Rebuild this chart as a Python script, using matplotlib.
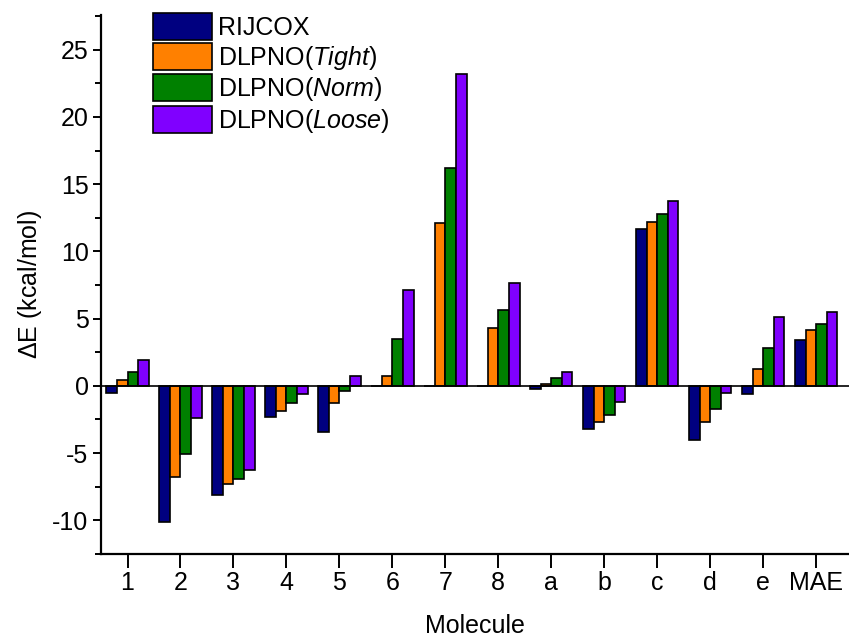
import numpy as np
import matplotlib
matplotlib.use('Agg')
import matplotlib.pyplot as plt
from matplotlib.ticker import MultipleLocator

plt.rcParams['font.family'] = ['Liberation Sans', 'DejaVu Sans']
plt.rcParams['mathtext.fontset'] = 'custom'
plt.rcParams['mathtext.rm'] = 'Liberation Sans'
plt.rcParams['mathtext.it'] = 'Liberation Sans:italic'
plt.rcParams['axes.unicode_minus'] = False

molecules = ['1', '2', '3', '4', '5', '6', '7', '8', 'a', 'b', 'c', 'd', 'e', 'MAE']
series_names = ['RIJCOX', 'DLPNO($\\mathit{Tight}$)', 'DLPNO($\\mathit{Norm}$)', 'DLPNO($\\mathit{Loose}$)']
rijcox = [-0.5, -10.1, -8.1, -2.3, -3.4, 0.0, 0.0, 0.0, -0.2, -3.2, 11.7, -4.0, -0.6, 3.4]
tight = [0.4, -6.8, -7.3, -1.9, -1.3, 0.75, 12.1, 4.3, 0.17, -2.7, 12.2, -2.7, 1.25, 4.15]
norm = [1.0, -5.05, -6.95, -1.3, -0.35, 3.45, 16.2, 5.65, 0.55, -2.15, 12.8, -1.7, 2.8, 4.6]
loose = [1.9, -2.4, -6.3, -0.6, 0.7, 7.1, 23.2, 7.65, 1.05, -1.2, 13.75, -0.5, 5.1, 5.5]
colors = ['#000080', '#FF8000', '#008000', '#8000FF']

fig = plt.figure(figsize=(8.49, 6.44), dpi=100)
ax = fig.add_axes([0.119, 0.14, 0.881, 0.837])

x = np.arange(1, len(molecules) + 1)
width = 0.2
all_series = [rijcox, tight, norm, loose]
handles = []
for i, vals in enumerate(all_series):
    b = ax.bar(x + (i - 1.5) * width, vals, width, color=colors[i],
               edgecolor='black', linewidth=1.2, label=series_names[i], zorder=2)
    handles.append(b)

ax.axhline(0, color='black', linewidth=1.2, zorder=3)

ax.set_xlim(0.5, 14.62)
ax.set_ylim(-12.5, 27.6)
ax.set_xticks(x)
ax.set_xticklabels(molecules)
ax.yaxis.set_major_locator(MultipleLocator(5))
ax.yaxis.set_minor_locator(MultipleLocator(2.5))

for s in ['top', 'right']:
    ax.spines[s].set_visible(False)
for s in ['left', 'bottom']:
    ax.spines[s].set_linewidth(1.6)

ax.tick_params(axis='y', which='major', direction='out', length=6, width=1.4, labelsize=18, pad=3)
ax.tick_params(axis='y', which='minor', direction='out', length=4, width=1.4)
ax.tick_params(axis='x', which='major', direction='out', length=10, width=1.4, labelsize=18, pad=2)

ax.set_xlabel('Molecule', fontsize=18, labelpad=14)
ax.set_ylabel('$\\Delta$E (kcal/mol)', fontsize=18, labelpad=6)

ax.legend(handles=handles, loc='upper left', bbox_to_anchor=(0.18, 0.98),
          bbox_transform=fig.transFigure, frameon=False, fontsize=18,
          handlelength=2.36, handleheight=1.3, labelspacing=0.1, handletextpad=0.25,
          borderaxespad=0, borderpad=0)

fig.savefig('out.png', dpi=100)
